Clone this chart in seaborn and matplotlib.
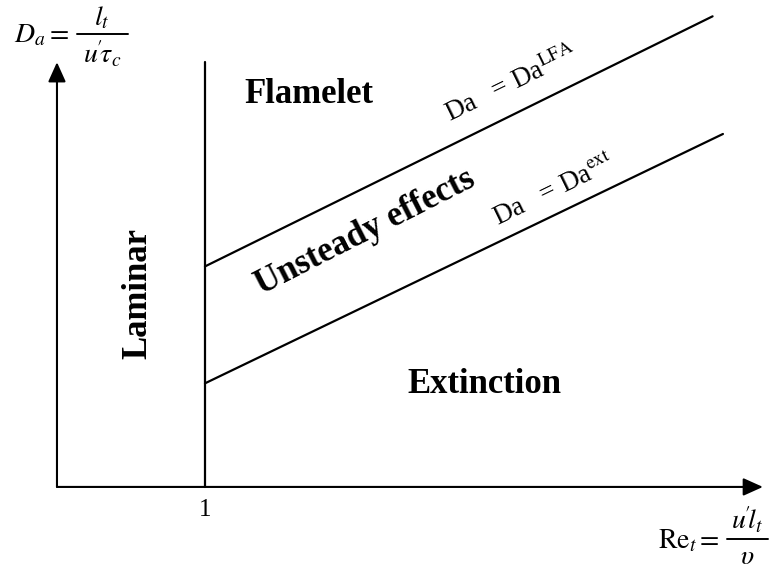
import numpy as np
import pandas as pd
import matplotlib
matplotlib.use("Agg")
import matplotlib.pyplot as plt
import seaborn as sns

# =========================
# DATA (schematic units: 1 unit = Re_t of 1)
# =========================
re_lfa = [1.0, 4.43]            # Re_t at start / end of LFA line
da_lfa = [1.49, 3.18]           # Da on LFA boundary
re_ext = [1.0, 4.50]
da_ext = [0.70, 2.385]
re_one = [1.0, 1.0]             # vertical Re_t = 1 line
da_one = [0.0, 2.87]

regions = ["Flamelet", "Laminar", "Unsteady effects", "Extinction"]

sns.set_theme(style="white")
plt.rcParams['font.family'] = ['Liberation Serif', 'DejaVu Serif']
plt.rcParams['mathtext.fontset'] = 'stix'
plt.rcParams['text.color'] = 'black'

fig = plt.figure(figsize=(7.7, 5.74), dpi=100)
ax = fig.add_axes([0, 0, 1, 1])


def P(x, y):
    # pixel position -> schematic units
    return (x - 57) / 148, (487 - y) / 148


lines_df = pd.concat([
    pd.DataFrame({'Re': re_lfa, 'Da': da_lfa, 'line': 'lfa'}),
    pd.DataFrame({'Re': re_ext, 'Da': da_ext, 'line': 'ext'}),
    pd.DataFrame({'Re': re_one, 'Da': da_one, 'line': 'one'}),
])
sns.lineplot(data=lines_df, x='Re', y='Da', units='line', estimator=None,
             color='black', linewidth=1.6, sort=False, ax=ax)

# axes arrows
arrow = dict(arrowstyle='-|>,head_length=1.0,head_width=0.45', lw=1.5,
             color='black', shrinkA=0, shrinkB=0)
ax.annotate('', xy=(0, 2.87), xytext=(0, 0), arrowprops=arrow)
ax.annotate('', xy=(4.77, 0), xytext=(0, 0), arrowprops=arrow)

ax.set_xlim(-0.385, 4.818)
ax.set_ylim(-0.588, 3.29)
ax.set_aspect('equal')
ax.axis('off')

# region labels
bold = dict(fontsize=25, fontweight='bold', ha='center', va='center')
ax.text(*P(309, 95), regions[0], **bold)
ax.text(*P(138, 294), regions[1], rotation=90, **bold)
ax.text(*P(365, 232), regions[2], rotation=27, rotation_mode='anchor', **bold)
ax.text(*P(484, 385), regions[3], **bold)

# boundary labels
ax.text(*P(511, 84), r'Da   = Da$^{\mathrm{LFA}}$', fontsize=19.5, ha='center',
        va='center', rotation=26, rotation_mode='anchor')
ax.text(*P(554, 191), r'Da   = Da$^{\mathrm{ext}}$', fontsize=19.5, ha='center',
        va='center', rotation=26, rotation_mode='anchor')

# tick "1"
ax.text(*P(205, 510), '1', fontsize=18, ha='center', va='center')

# y-axis label: D_a = l_t / (u' tau_c)
ax.text(*P(14, 36), r'$D_a =$', fontsize=20, ha='left', va='center')
ax.plot(*zip(P(77, 34), P(128, 34)), color='black', lw=1.4)
ax.text(*P(102, 18), r'$l_t$', fontsize=20, ha='center', va='center')
ax.text(*P(102, 54), r"$u^{\!\prime}\!\tau_c$", fontsize=20, ha='center', va='center')

# x-axis label: Re_t = u' l_t / nu
ax.text(*P(720, 541), r'$\mathrm{Re}_t =$', fontsize=20, ha='right', va='center')
ax.plot(*zip(P(727, 539), P(768, 539)), color='black', lw=1.4)
ax.text(*P(747, 520), r"$u^{\!\prime}\!l_t$", fontsize=20, ha='center', va='center')
ax.text(*P(747, 558), r'$\upsilon$', fontsize=20, ha='center', va='center')

plt.savefig('out.png', dpi=100)
plt.close()
